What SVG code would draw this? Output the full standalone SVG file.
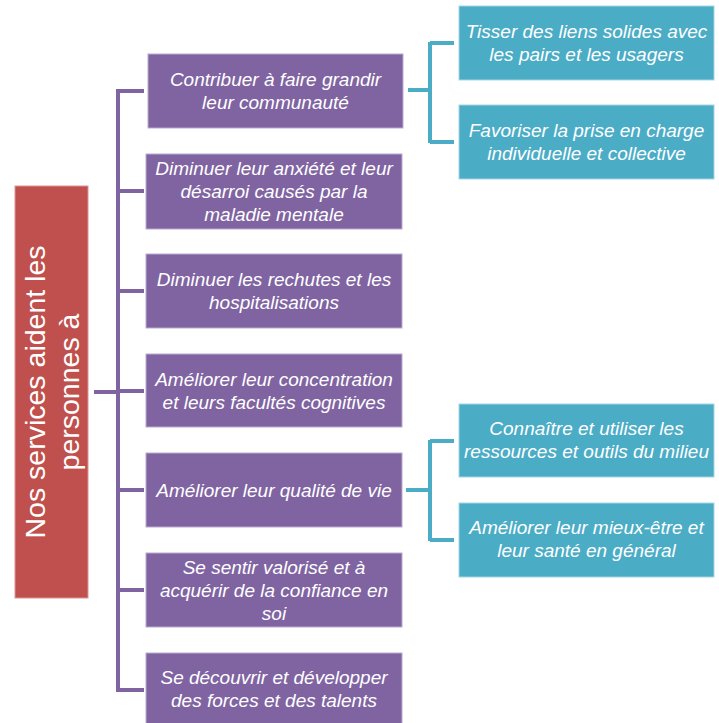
<svg xmlns="http://www.w3.org/2000/svg" width="719" height="723" viewBox="0 0 719 723">
<style>
.p{fill:#8064A2;stroke:#B9A9CF;stroke-width:1}
.t{fill:#4BACC6;stroke:#A5D5E3;stroke-width:1}
.tx{font-family:"Liberation Sans",Arial,sans-serif;font-style:italic;font-size:19px;fill:#fff;text-anchor:middle}
.rt{font-family:"Liberation Sans",Arial,sans-serif;font-size:28.5px;fill:#fff;text-anchor:middle}
.lp{stroke:#8064A2;stroke-width:4;fill:none}
.lt{stroke:#4BACC6;stroke-width:4;fill:none}
</style>
<rect width="719" height="723" fill="#fff"/>
<g id="connectors">
<path class="lp" d="M94 392H118M118 89V692M118 91H144M118 191H144M118 291H144M118 391H144M118 490H144M118 590H144M118 690H144"/>
<path class="lt" d="M408 90H430M430 42V143M430 43H454M430 142H454"/>
<path class="lt" d="M406 490H430M430 440V541M430 441H454M430 540H454"/>
</g>
<g id="root">
<rect x="15" y="186" width="73" height="412" fill="#C0504D" stroke="#D99694" stroke-width="1"/>
<text class="rt" transform="translate(51.5 392) rotate(-90)"><tspan x="0" y="-7">Nos services aident les</tspan><tspan x="0" y="27">personnes à</tspan></text>
</g>
<g id="n1"><rect class="p" x="148" y="54" width="255" height="74"/><text class="tx"><tspan x="275.5" y="86">Contribuer à faire grandir</tspan><tspan x="275.5" y="109">leur communauté</tspan></text></g>
<g id="n2"><rect class="p" x="146" y="154" width="256" height="75"/><text class="tx"><tspan x="274" y="175">Diminuer leur anxiété et leur</tspan><tspan x="274" y="198">désarroi causés par la</tspan><tspan x="274" y="221">maladie mentale</tspan></text></g>
<g id="n3"><rect class="p" x="146" y="254" width="256" height="74"/><text class="tx"><tspan x="274" y="286">Diminuer les rechutes et les</tspan><tspan x="274" y="309">hospitalisations</tspan></text></g>
<g id="n4"><rect class="p" x="146" y="354" width="256" height="73"/><text class="tx"><tspan x="274" y="386">Améliorer leur concentration</tspan><tspan x="274" y="409">et leurs facultés cognitives</tspan></text></g>
<g id="n5"><rect class="p" x="146" y="453" width="256" height="74"/><text class="tx" x="274" y="497">Améliorer leur qualité de vie</text></g>
<g id="n6"><rect class="p" x="146" y="553" width="256" height="74"/><text class="tx"><tspan x="274" y="574">Se sentir valorisé et à</tspan><tspan x="274" y="597">acquérir de la confiance en</tspan><tspan x="274" y="620">soi</tspan></text></g>
<g id="n7"><rect class="p" x="146" y="653" width="256" height="74"/><text class="tx"><tspan x="274" y="684">Se découvrir et développer</tspan><tspan x="274" y="707">des forces et des talents</tspan></text></g>
<g id="t1"><rect class="t" x="459" y="6" width="255" height="74"/><text class="tx"><tspan x="586.5" y="38">Tisser des liens solides avec</tspan><tspan x="586.5" y="61">les pairs et les usagers</tspan></text></g>
<g id="t2"><rect class="t" x="459" y="105" width="255" height="74"/><text class="tx"><tspan x="586.5" y="137">Favoriser la prise en charge</tspan><tspan x="586.5" y="160">individuelle et collective</tspan></text></g>
<g id="t3"><rect class="t" x="459" y="404" width="255" height="73"/><text class="tx"><tspan x="586.5" y="435">Connaître et utiliser les</tspan><tspan x="586.5" y="458">ressources et outils du milieu</tspan></text></g>
<g id="t4"><rect class="t" x="459" y="503" width="255" height="74"/><text class="tx"><tspan x="586.5" y="534">Améliorer leur mieux-être et</tspan><tspan x="586.5" y="557">leur santé en général</tspan></text></g>
</svg>
